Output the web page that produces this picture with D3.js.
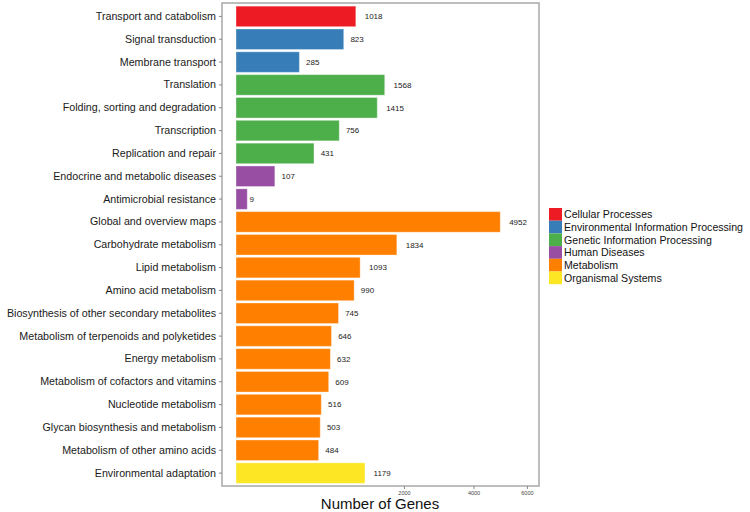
<!DOCTYPE html>
<html>
<head>
<meta charset="utf-8">
<script src="https://cdn.jsdelivr.net/npm/d3@7"></script>
<style>
  body { margin: 0; background: #fff; }
  svg { font-family: "Liberation Sans", Arial, Helvetica, sans-serif; }
</style>
</head>
<body>
<svg id="chart" width="750" height="512"></svg>
<script>
// Pathway categories, top to bottom
const pathways = [
  'Transport and catabolism', 'Signal transduction', 'Membrane transport',
  'Translation', 'Folding, sorting and degradation', 'Transcription', 'Replication and repair',
  'Endocrine and metabolic diseases', 'Antimicrobial resistance',
  'Global and overview maps', 'Carbohydrate metabolism', 'Lipid metabolism', 'Amino acid metabolism',
  'Biosynthesis of other secondary metabolites', 'Metabolism of terpenoids and polyketides',
  'Energy metabolism', 'Metabolism of cofactors and vitamins', 'Nucleotide metabolism',
  'Glycan biosynthesis and metabolism', 'Metabolism of other amino acids',
  'Environmental adaptation'
];
const geneCounts = [1018, 823, 285, 1568, 1415, 756, 431, 107, 9,
  4952, 1834, 1093, 990, 745, 646, 632, 609, 516, 503, 484, 1179];
const groups = [
  'Cellular Processes', 'Environmental Information Processing', 'Environmental Information Processing',
  'Genetic Information Processing', 'Genetic Information Processing', 'Genetic Information Processing',
  'Genetic Information Processing', 'Human Diseases', 'Human Diseases',
  'Metabolism', 'Metabolism', 'Metabolism', 'Metabolism', 'Metabolism', 'Metabolism',
  'Metabolism', 'Metabolism', 'Metabolism', 'Metabolism', 'Metabolism', 'Organismal Systems'
];
const groupNames = ['Cellular Processes', 'Environmental Information Processing',
  'Genetic Information Processing', 'Human Diseases', 'Metabolism', 'Organismal Systems'];
const groupColors = ['#ED1C24', '#377EB8', '#4DAF4A', '#984EA3', '#FF7F00', '#FDE725'];
const xTicks = [2000, 4000, 6000];

const panel = { left: 222, right: 539, top: 3, bottom: 486 };

const svg = d3.select('#chart');
const data = pathways.map((p, i) => ({ name: p, value: geneCounts[i], group: groups[i] }));

const x = d3.scaleSqrt().domain([0, 6510]).range([236, panel.right]);
const y = d3.scaleBand()
  .domain(pathways)
  .range([5, 484.5])
  .paddingInner(0.1)
  .paddingOuter(0.05);
const color = d3.scaleOrdinal().domain(groupNames).range(groupColors);

// Panel frame
svg.append('rect')
  .attr('x', panel.left).attr('y', panel.top)
  .attr('width', panel.right - panel.left).attr('height', panel.bottom - panel.top)
  .attr('fill', '#fff').attr('stroke', '#a8a8a8').attr('stroke-width', 1.5);

// Bars
svg.append('g').selectAll('rect').data(data).join('rect')
  .attr('x', x(0))
  .attr('y', d => y(d.name))
  .attr('width', d => x(d.value) - x(0))
  .attr('height', y.bandwidth())
  .attr('fill', d => color(d.group))
  .attr('stroke', '#fff').attr('stroke-opacity', 0.35).attr('stroke-width', 1);

// Value labels (offset by half their own width)
svg.append('g').selectAll('text').data(data).join('text')
  .attr('y', d => y(d.name) + y.bandwidth() / 2)
  .attr('dy', '0.35em')
  .attr('font-size', 8)
  .attr('fill', '#222')
  .text(d => d.value)
  .attr('x', function(d) { return x(d.value) + this.getComputedTextLength() * 0.5; });

// Y axis
const yAxis = svg.append('g')
  .attr('transform', `translate(${panel.left},0)`)
  .call(d3.axisLeft(y).tickSize(3).tickPadding(3));
yAxis.select('.domain').remove();
yAxis.selectAll('line').attr('stroke', '#888');
yAxis.selectAll('text').attr('font-size', 10.7).attr('fill', '#1a1a1a')
  .attr('font-family', '"Liberation Sans", Arial, sans-serif');

// X axis
const xAxis = svg.append('g')
  .attr('transform', `translate(0,${panel.bottom})`)
  .call(d3.axisBottom(x).tickValues(xTicks).tickFormat(d3.format('d')).tickSize(3).tickPadding(2));
xAxis.select('.domain').remove();
xAxis.selectAll('line').attr('stroke', '#888');
xAxis.selectAll('text').attr('font-size', 5.5).attr('fill', '#444')
  .attr('font-family', '"Liberation Sans", Arial, sans-serif');

// X title
svg.append('text')
  .attr('x', 380).attr('y', 509)
  .attr('text-anchor', 'middle')
  .attr('font-size', 15)
  .attr('fill', '#111')
  .text('Number of Genes');

// Legend
const legend = svg.append('g').attr('transform', 'translate(549,208)');
const legendRow = legend.selectAll('g').data(groupNames).join('g')
  .attr('transform', (d, i) => `translate(0,${i * 12.7})`);
legendRow.append('rect')
  .attr('width', 13).attr('height', 12.7)
  .attr('fill', d => color(d));
legendRow.append('text')
  .attr('x', 15).attr('y', 6.5).attr('dy', '0.35em')
  .attr('font-size', 10.6).attr('fill', '#111')
  .text(d => d);
</script>
</body>
</html>
